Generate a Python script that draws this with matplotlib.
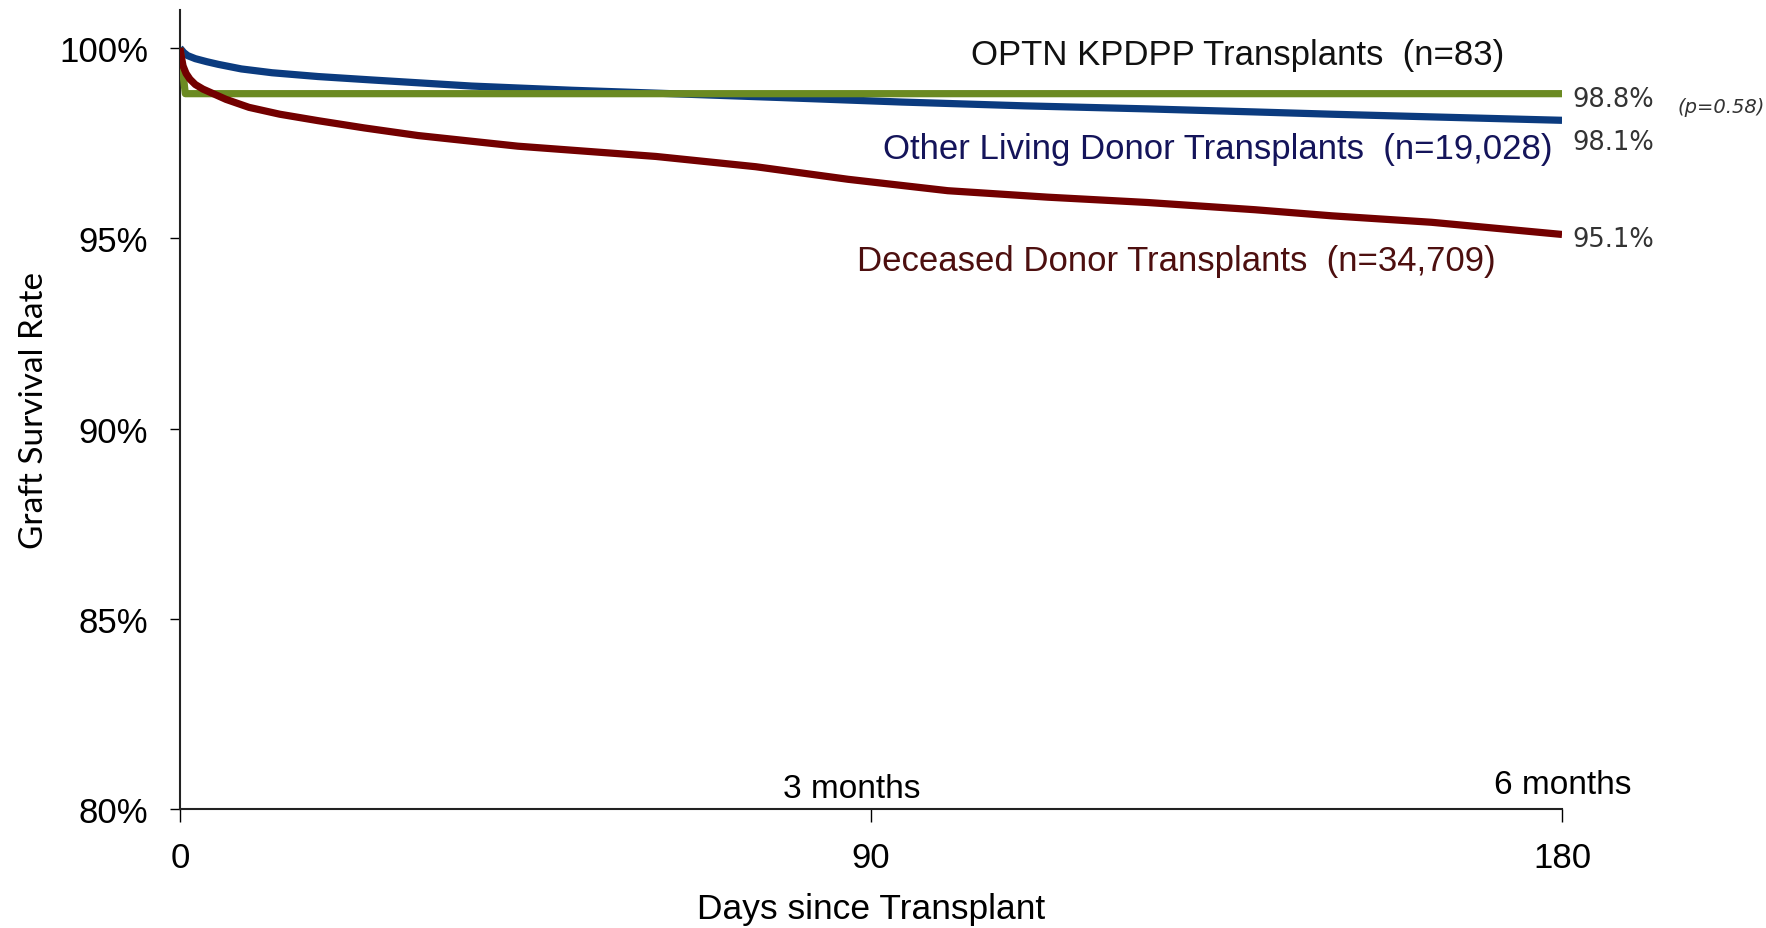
# Graft survival curves, days since transplant
import matplotlib
matplotlib.use("Agg")
import matplotlib.pyplot as plt

# Datos
dias_kpdpp = [0, 0.7, 180]
sup_kpdpp = [100, 98.8, 98.8]

dias_vivo = [0, 0.5, 1, 2, 3.5, 5, 8, 12, 18, 25, 38, 51, 64, 78, 94, 110, 126, 140, 150, 163, 180]
sup_vivo = [100, 99.88, 99.8, 99.72, 99.64, 99.57, 99.45, 99.35, 99.25, 99.16, 99.0, 98.89,
            98.8, 98.7, 98.58, 98.48, 98.4, 98.32, 98.26, 98.19, 98.1]

dias_fallecido = [0, 0.2, 0.4, 0.8, 1.3, 2, 3, 4, 6, 9, 13, 18, 24, 31, 44, 62, 75, 87,
                  100, 113, 126, 140, 150, 163, 180]
sup_fallecido = [100, 99.75, 99.53, 99.33, 99.18, 99.04, 98.92, 98.83, 98.65, 98.44, 98.26,
                 98.09, 97.9, 97.7, 97.42, 97.15, 96.88, 96.55, 96.25, 96.08, 95.94, 95.75,
                 95.59, 95.42, 95.1]

xticks = [0, 90, 180]
yticks = [80, 85, 90, 95, 100]

arial = "Liberation Sans"

fig = plt.figure(figsize=(17.66, 9.29), dpi=100)
ax = fig.add_axes([0.1019, 0.1281, 0.7826, 0.8601])

ax.plot(dias_vivo, sup_vivo, color="#0b3b7f", lw=5.2, zorder=2, solid_capstyle="butt")
ax.plot(dias_kpdpp, sup_kpdpp, color="#6b8a22", lw=5.2, zorder=3, solid_capstyle="butt")
ax.plot(dias_fallecido, sup_fallecido, color="#730000", lw=5.2, zorder=4, solid_capstyle="butt")

ax.set_xlim(0, 180)
ax.set_ylim(80, 101)
ax.set_xticks(xticks)
ax.set_xticklabels([str(t) for t in xticks], fontfamily=arial, fontsize=25)
ax.set_yticks(yticks)
ax.set_yticklabels([f"{t}%" for t in yticks], fontfamily=arial, fontsize=25)
ax.tick_params(axis="x", direction="out", length=9, width=1, pad=14)
ax.tick_params(axis="y", direction="out", length=7, width=1, pad=16)

for s in ["top", "right"]:
    ax.spines[s].set_visible(False)
for s in ["left", "bottom"]:
    ax.spines[s].set_linewidth(1.5)
    ax.spines[s].set_color("#222222")

ax.set_xlabel("Days since Transplant", fontfamily=arial, fontsize=25.5, labelpad=13)
ax.set_ylabel("Graft Survival Rate", fontfamily="Lato", fontsize=24, labelpad=7)

# etiquetas de las curvas
ax.text(137.7, 99.83, "OPTN KPDPP Transplants  (n=83)", ha="center", va="center",
        fontfamily=arial, fontsize=25, color="#111111")
ax.text(135.1, 97.36, "Other Living Donor Transplants  (n=19,028)", ha="center", va="center",
        fontfamily=arial, fontsize=25, color="#14145a")
ax.text(129.7, 94.42, "Deceased Donor Transplants  (n=34,709)", ha="center", va="center",
        fontfamily=arial, fontsize=25, color="#4d0f0f")

# valores finales
ax.text(181.3, 98.65, "98.8%", ha="left", va="center", fontsize=18.5, color="#333333", clip_on=False)
ax.text(181.3, 97.52, "98.1%", ha="left", va="center", fontsize=18.5, color="#333333", clip_on=False)
ax.text(181.3, 94.97, "95.1%", ha="left", va="center", fontsize=18.5, color="#333333", clip_on=False)
ax.text(195, 98.46, "(p=0.58)", ha="left", va="center", fontsize=14, style="italic",
        color="#333333", clip_on=False)

ax.text(87.5, 80.55, "3 months", ha="center", va="center", fontfamily=arial, fontsize=24)
ax.text(180.1, 80.65, "6 months", ha="center", va="center", fontfamily=arial, fontsize=24)

fig.savefig("out.png", dpi=100)
